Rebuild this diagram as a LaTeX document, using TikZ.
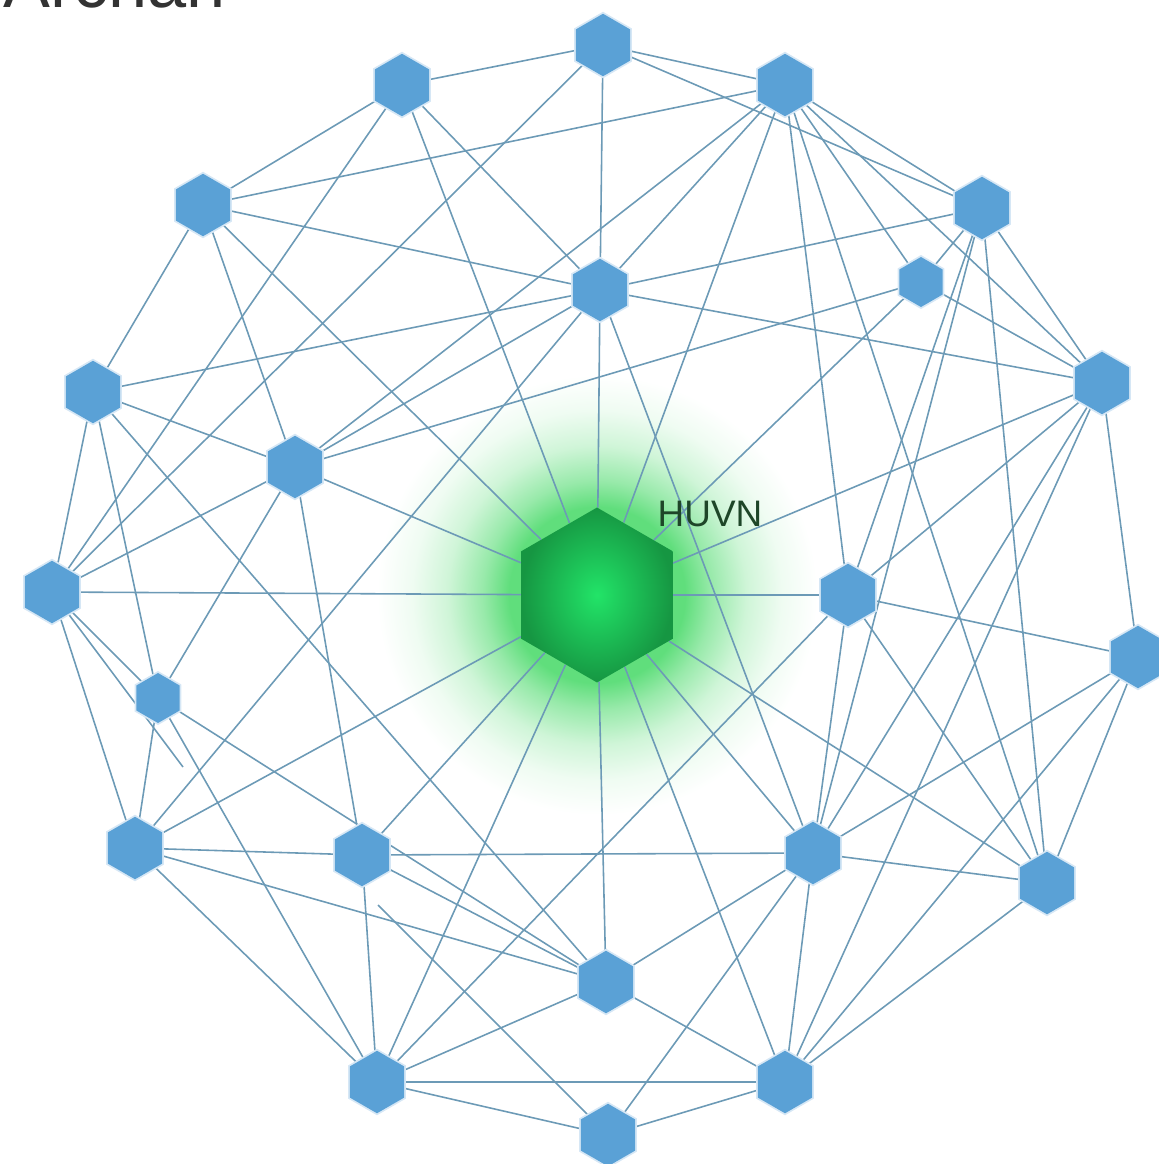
\documentclass[tikz,border=0pt]{standalone}
\usepackage{fontspec}
\setmainfont{Liberation Sans}
\usetikzlibrary{shapes.geometric}
\definecolor{hexblue}{RGB}{90,161,214}
\definecolor{linkcol}{RGB}{108,154,182}
\definecolor{huvnlight}{RGB}{34,228,104}
\definecolor{huvndark}{RGB}{22,150,66}
\definecolor{glowgreen}{RGB}{96,222,124}
\definecolor{labelgreen}{RGB}{30,70,40}
\pgfdeclarelayer{glow}
\pgfdeclarelayer{links}
\pgfsetlayers{glow,links,main}
\pgfdeclareradialshading{huvnglow}{\pgfpointorigin}{color(0bp)=(glowgreen); color(10bp)=(glowgreen); color(13bp)=(glowgreen!65!white); color(17bp)=(glowgreen!30!white); color(21bp)=(glowgreen!10!white); color(25bp)=(white); color(50bp)=(white)}
\tikzset{
  hexnode/.style={regular polygon,regular polygon sides=6,shape border rotate=30,
    minimum size=1.25cm,inner sep=0pt,fill=hexblue,
    preaction={draw=hexblue!25,line width=2pt}},
  smallhex/.style={hexnode,minimum size=1cm},
  link/.style={draw=linkcol,line width=0.9pt}
}

\begin{document}
\begin{tikzpicture}[x=0.02cm,y=-0.02cm]
\useasboundingbox (0,0) rectangle (1159,1164);
% title, cut by the top edge
\node[anchor=base west,font=\fontsize{40}{46}\selectfont,text=black!80] (title) at (-3,7) {Archan};
% outer and inner hexagons
\foreach \n/\px/\py in {T1/603/45,T2/402/85,T3/785/85,L1/203/205,R1/982/208,C1/600/290,
  L2/93/392,R3/1102/383,L3/295/467,L4/52/592,R4/848/595,R5/1138/657,
  L6/135/848,M1/362/855,M2/813/853,R6/1047/883,B1/606/982,B2/377/1082,B3/785/1082,B4/608/1135}{
  \node[hexnode] (\n) at (\px,\py) {};
}
\node[smallhex] (R2) at (921,282) {};
\node[smallhex] (L5) at (158,698) {};
% central node
\node[regular polygon,regular polygon sides=6,shape border rotate=30,minimum size=3.5cm,
  inner sep=0pt,shading=radial,inner color=huvnlight,outer color=huvndark] (H) at (597,595) {};
\node[font=\fontsize{21}{25}\selectfont,text=labelgreen] (hlab) at (710,514) {HUVN};
\begin{pgfonlayer}{glow}
  \shade[shading=huvnglow] (H.center) circle (4.4cm);
\end{pgfonlayer}
% links
\coordinate (endA) at (183,767);
\coordinate (endB) at (378,905);
\begin{pgfonlayer}{links}
\foreach \a/\b in {T1/T2,T1/T3,T1/C1,T1/R1,T1/L4,
  T2/L1,T2/C1,T2/H,T2/L4,
  T3/C1,T3/R1,T3/R2,T3/R3,T3/H,T3/L1,T3/L3,T3/R4,T3/R6,
  L1/L2,L1/L3,L1/C1,L1/H,
  C1/H,C1/R1,C1/R3,C1/L2,C1/L3,C1/L6,C1/M2,
  R1/R2,R1/R3,R1/R4,R1/R6,R1/M2,
  R2/R3,R2/H,R2/L3,
  R3/H,R3/R4,R3/M2,R3/R5,R3/B3,
  R4/H,R4/R5,R4/B2,R4/M2,R4/R6,
  R5/M2,R5/B3,R5/R6,
  R6/H,R6/M2,R6/B3,
  H/L3,H/L4,H/L6,H/M1,H/B2,H/B1,H/B3,H/M2,
  L2/L3,L2/L4,L2/L5,L2/B1,
  L3/L4,L3/L5,L3/M1,
  L4/L5,L4/L6,L4/endA,
  L5/L6,L5/B2,L5/B1,
  L6/M1,L6/B2,L6/B1,
  M1/M2,M1/B1,M1/B2,
  M2/B1,M2/B3,M2/B4,
  B1/B2,B1/B3,B2/B3,B2/B4,B3/B4,endB/B4}{
  \draw[link] (\a) -- (\b);
}
\end{pgfonlayer}
\end{tikzpicture}
\end{document}
